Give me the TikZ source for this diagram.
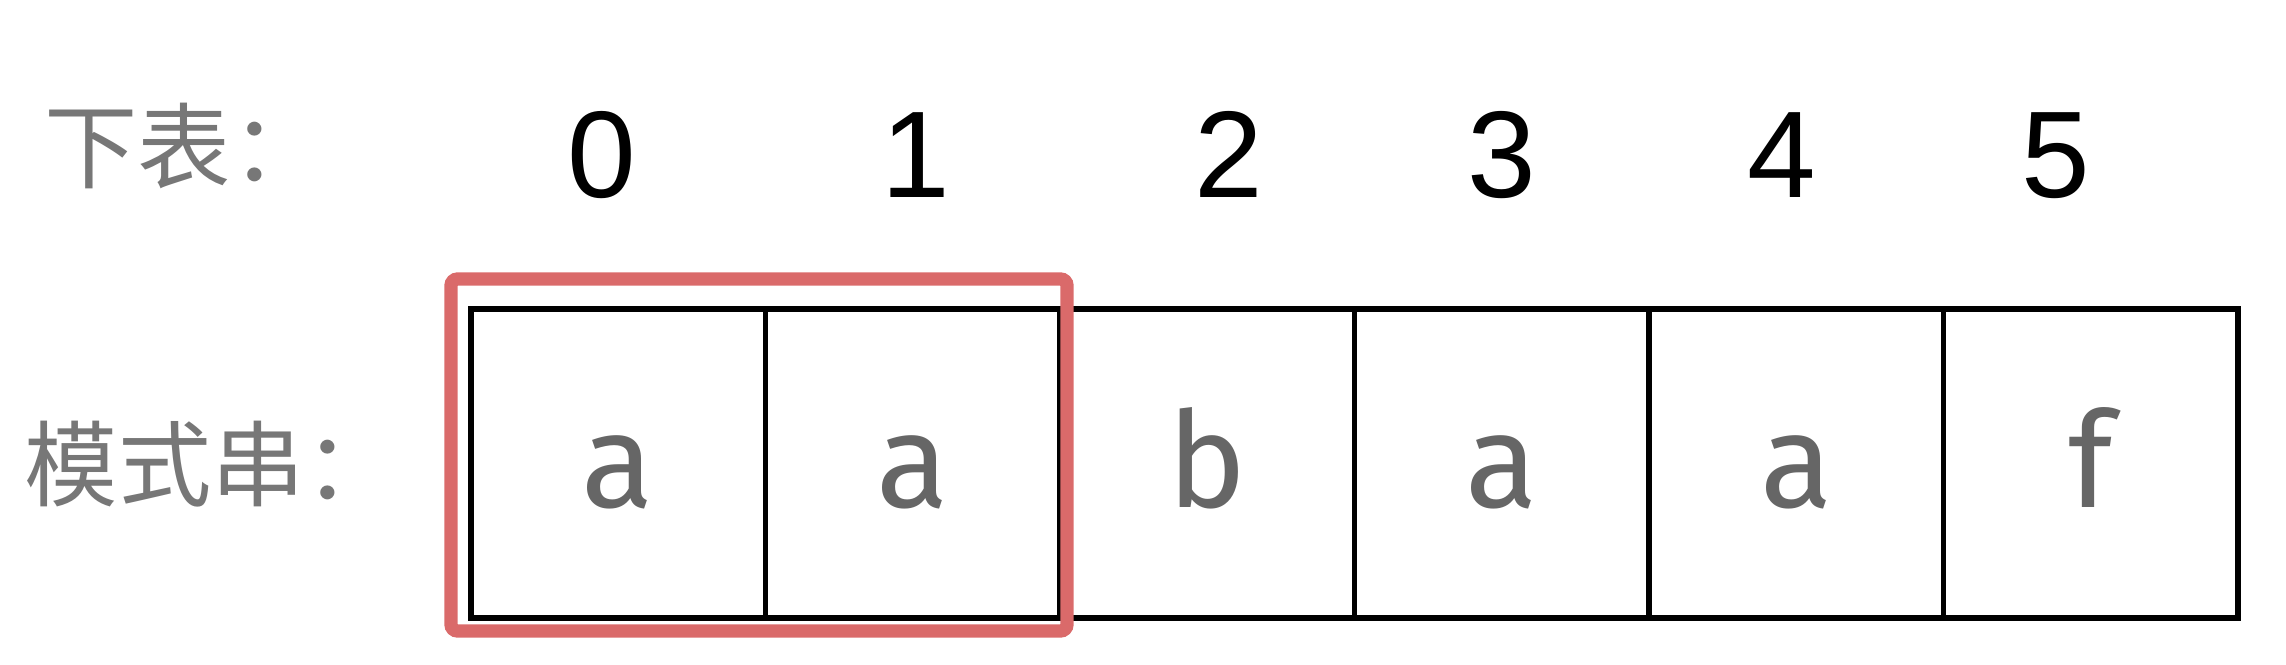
\documentclass[tikz,border=0pt]{standalone}
\usepackage{fontspec}
\setmainfont{Liberation Sans}
\newfontfamily\cjk{Noto Sans CJK SC}
\newfontfamily\cellfont{Fira Sans}
\definecolor{hlred}{RGB}{218,106,106}
\definecolor{lettergrey}{RGB}{102,102,102}
\definecolor{labgrey}{RGB}{119,119,119}
\begin{document}
\begin{tikzpicture}[x=0.3pt,y=-0.3pt,
  cell/.style={draw=black, line width=1.6pt, minimum width=88.35pt, minimum height=92.7pt, inner sep=0pt},
  letter/.style={font=\cellfont\fontsize{40}{40}\selectfont, text=lettergrey, inner sep=0pt, anchor=base},
  digit/.style={font=\fontsize{37}{37}\selectfont, text=black, inner sep=0pt, anchor=base},
  lab/.style={font=\cjk\fontsize{28}{28}\selectfont, text=labgrey, inner sep=0pt, anchor=west},
  hlbox/.style={draw=hlred, line width=4pt, rounded corners=2pt}]
\useasboundingbox (0,0) rectangle (2286,664);
\foreach \i/\t/\dx in {0/a/602,1/a/916,2/b/1229,3/a/1502,4/a/1782,5/f/2056}{
  \node[cell] (c\i) at ({471+294.5*(\i+0.5)},463.5) {};
  \node[letter] (l\i) at ({471+294.5*(\i+0.5)},507) {\t};
  \node[digit] (d\i) at (\dx,197) {\i};
}
\draw[hlbox] (451,279) rectangle (1067,631);
\node[lab] (idx) at (44,146) {下表：};
\node[lab] (pat) at (24,464) {模式串：};
\end{tikzpicture}
\end{document}
